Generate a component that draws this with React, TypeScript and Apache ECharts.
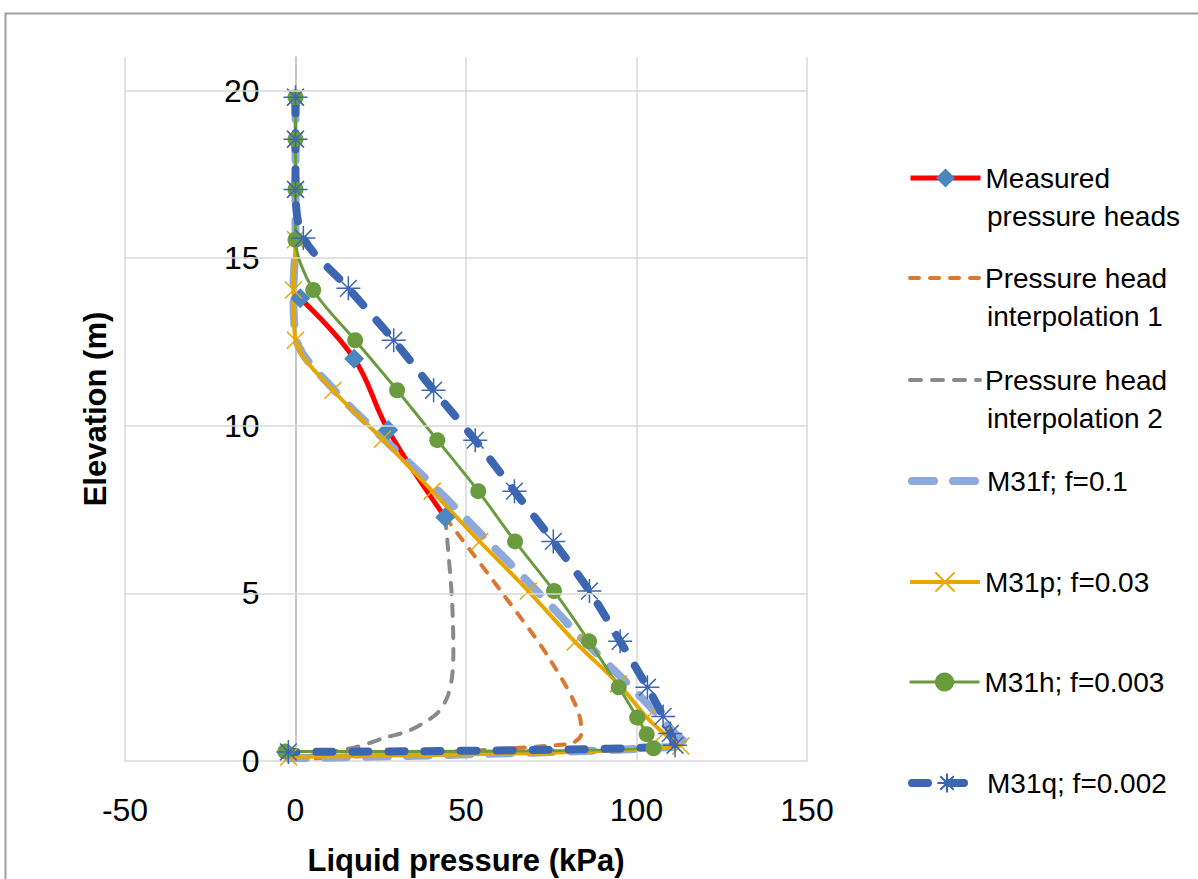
import React, { useEffect, useRef } from "react";
import * as echarts from "echarts";

// ---- data (pressure kPa, elevation m) ----
const measuredP = [1.4, 17.2, 27.2, 43.9];
const measuredE = [13.8, 12.0, 9.87, 7.27];

const interp1P = [43.9, 60.0, 74.8, 83.6, 83.8, 80.0, -1.0];
const interp1E = [7.27, 5.1, 3.0, 1.2, 0.8, 0.5, 0.05];

const interp2P = [43.9, 44.6, 45.9, 46.3, 45.9, 44.5, 41.5, 33.6, 25.7, 18.0, 0.0];
const interp2E = [7.27, 6.5, 4.8, 3.3, 2.5, 1.9, 1.42, 0.92, 0.68, 0.42, 0.08];

const m31fP = [0, 0, 0, 0, -0.6, 0.3, 11.5, 26.5, 42.0, 56.5, 71.0, 85.0, 98.5, 107.0, 111.5, 115.0, -2.0];
const m31fE = [19.8, 18.55, 17.05, 15.55, 14.05, 12.55, 11.05, 9.55, 8.05, 6.55, 5.05, 3.55, 2.2, 1.3, 0.8, 0.5, 0.08];

const m31pP = [0, 0, 0, 0, -0.6, 0, 11.0, 25.5, 40.1, 54.0, 68.3, 82.0, 94.7, 103.0, 108.0, 113.0, -2.0];
const m31pE = [19.8, 18.55, 17.05, 15.55, 14.05, 12.55, 11.06, 9.6, 8.05, 6.55, 5.07, 3.55, 2.3, 1.3, 0.83, 0.45, 0.12];

const m31hP = [0, 0, 0, 0, 5.2, 17.5, 29.8, 41.6, 53.6, 64.4, 75.8, 86.1, 94.8, 100.2, 103.0, 105.0, -3.0];
const m31hE = [19.8, 18.55, 17.05, 15.55, 14.05, 12.55, 11.06, 9.57, 8.05, 6.55, 5.07, 3.57, 2.2, 1.3, 0.8, 0.38, 0.28];

const m31qP = [0, 0, 0, 2.3, 15.5, 28.8, 40.5, 52.7, 64.2, 75.6, 86.2, 95.2, 103.2, 107.8, 109.9, 111.3, -2.1];
const m31qE = [19.8, 18.55, 17.05, 15.6, 14.1, 12.55, 11.06, 9.57, 8.05, 6.55, 5.07, 3.57, 2.2, 1.33, 0.82, 0.47, 0.27];

const xTicks = [-50, 0, 50, 100, 150];
const yGridTicks = [5, 10, 15, 20];

const legendNames = [
  "Measured pressure heads",
  "Pressure head interpolation 1",
  "Pressure head interpolation 2",
  "M31f; f=0.1",
  "M31p; f=0.03",
  "M31h; f=0.003",
  "M31q; f=0.002",
];
const legendFirstLine = ["Measured", "Pressure head", "Pressure head", "M31f; f=0.1", "M31p; f=0.03", "M31h; f=0.003", "M31q; f=0.002"];
const legendSecondLine = ["pressure heads", "interpolation 1", "interpolation 2", "", "", "", ""];
const legendCenters = [178, 278, 380, 481, 582, 682, 783];

const zip = (p: number[], e: number[]) => p.map((v, i) => [v, e[i]]);

const FONT = "'Liberation Sans', Arial, sans-serif";
const X_MARK = "path://M0,0L10,10M10,0L0,10";
const STAR_MARK = "path://M5,0L5,10M0,5L10,5M1.5,1.5L8.5,8.5M8.5,1.5L1.5,8.5";

const COLORS = {
  red: "#FF0000",
  diamond: "#4A86C0",
  orange: "#DA7733",
  gray: "#8A8A8A",
  lightBlue: "#8EA9DB",
  yellow: "#E6A800",
  green: "#6A9C3F",
  blue: "#3C66B2",
};

export default function App() {
  const ref = useRef<HTMLDivElement>(null);
  useEffect(() => {
    if (!ref.current) return;
    const chart = echarts.init(ref.current, null, { renderer: "svg" });

    const legendLineWidths = [5, 4, 4, 8, 4, 3, 8];
    const legendHideSymbol = [false, true, true, true, false, false, false];

    const legends = legendNames.map((n, i) => ({
      data: [legendHideSymbol[i] ? { name: n, itemStyle: { opacity: 0 } } : { name: n }],
      left: 908,
      top: legendCenters[i] - 15,
      orient: "vertical",
      padding: 0,
      itemWidth: 70,
      itemHeight: 24,
      selectedMode: false,
      lineStyle: { width: legendLineWidths[i] },
      formatter: () => legendFirstLine[i],
      textStyle: { fontFamily: FONT, fontSize: 28, color: "#000", lineHeight: 30 },
    }));

    const graphics: any[] = [
      {
        type: "rect",
        shape: { x: 5.5, y: 13.5, width: 1300, height: 1000 },
        style: { fill: "none", stroke: "#a0a0a0", lineWidth: 2 },
        silent: true,
      },
    ];
    legendSecondLine.forEach((t, i) => {
      if (!t) return;
      graphics.push({
        type: "text",
        left: 987,
        top: legendCenters[i] + 39 - 15,
        style: { text: t, font: `28px ${FONT}`, fill: "#000" },
      });
    });

    chart.setOption({
      animation: false,
      backgroundColor: "#fff",
      grid: { left: 125, right: 391, top: 57, bottom: 118, containLabel: false, outerBoundsMode: "none" },
      legend: legends,
      graphic: graphics,
      xAxis: {
        type: "value",
        min: xTicks[0],
        max: xTicks[xTicks.length - 1],
        interval: 50,
        name: "Liquid pressure (kPa)",
        nameLocation: "middle",
        nameGap: 84,
        nameTextStyle: { fontFamily: FONT, fontSize: 31, fontWeight: "bold", color: "#000" },
        axisLine: { show: true, onZero: false, lineStyle: { color: "#d9d9d9", width: 1.5 } },
        axisTick: { show: false },
        axisLabel: { fontFamily: FONT, fontSize: 32, color: "#000", margin: 33 },
        splitLine: { show: true, lineStyle: { color: "#d9d9d9", width: 1.5 } },
      },
      yAxis: {
        type: "value",
        min: 0,
        max: 21,
        interval: 5,
        offset: -170.5,
        name: "Elevation (m)",
        nameLocation: "middle",
        nameGap: 185,
        nameTextStyle: { fontFamily: FONT, fontSize: 31, fontWeight: "bold", color: "#000" },
        axisLine: { show: true, onZero: false, lineStyle: { color: "#bfbfbf", width: 1.5 } },
        axisTick: { show: false },
        axisLabel: { fontFamily: FONT, fontSize: 32, color: "#000", margin: 36, showMaxLabel: false },
        splitLine: { show: false },
      },
      series: [
        {
          name: "gridlines",
          type: "line",
          data: [],
          silent: true,
          markLine: {
            silent: true,
            symbol: "none",
            label: { show: false },
            lineStyle: { color: "#d9d9d9", width: 1.5, type: "solid" },
            data: yGridTicks.map((v) => ({ yAxis: v })),
          },
        },
        {
          name: legendNames[0],
          type: "line",
          data: zip(measuredP, measuredE),
          smooth: 0.4,
          symbol: "diamond",
          symbolSize: 20,
          itemStyle: { color: COLORS.diamond },
          lineStyle: { color: COLORS.red, width: 5 },
        },
        {
          name: legendNames[1],
          type: "line",
          data: zip(interp1P, interp1E),
          smooth: 0.3,
          showSymbol: false,
          symbol: "none",
          itemStyle: { color: COLORS.orange },
          lineStyle: { color: COLORS.orange, width: 4, type: [9, 11], cap: "round" },
        },
        {
          name: legendNames[2],
          type: "line",
          data: zip(interp2P, interp2E),
          smooth: 0.3,
          showSymbol: false,
          symbol: "none",
          itemStyle: { color: COLORS.gray },
          lineStyle: { color: COLORS.gray, width: 4, type: [11, 11], cap: "round" },
        },
        {
          name: legendNames[3],
          type: "line",
          data: zip(m31fP, m31fE),
          smooth: 0.3,
          showSymbol: false,
          symbol: "none",
          itemStyle: { color: COLORS.lightBlue },
          lineStyle: { color: COLORS.lightBlue, width: 8, type: [22, 19], cap: "round" },
        },
        {
          name: legendNames[4],
          type: "line",
          data: zip(m31pP, m31pE),
          smooth: 0.3,
          symbol: X_MARK,
          symbolSize: 17,
          itemStyle: { color: COLORS.yellow, borderColor: COLORS.yellow, borderWidth: 1.5 },
          lineStyle: { color: COLORS.yellow, width: 4 },
        },
        {
          name: legendNames[5],
          type: "line",
          data: zip(m31hP, m31hE),
          smooth: 0.3,
          symbol: "circle",
          symbolSize: 16,
          itemStyle: { color: COLORS.green },
          lineStyle: { color: COLORS.green, width: 3 },
        },
        {
          name: legendNames[6],
          type: "line",
          data: zip(m31qP, m31qE),
          smooth: 0.3,
          symbol: STAR_MARK,
          symbolSize: 24,
          itemStyle: { color: COLORS.blue, borderColor: COLORS.blue, borderWidth: 1.5 },
          lineStyle: { color: COLORS.blue, width: 8, type: [16, 20], cap: "round" },
        },
      ],
    });
    return () => chart.dispose();
  }, []);
  return (
    <div
      ref={ref}
      style={{ position: "absolute", left: 0, top: 0, width: 1198, height: 879, background: "#fff" }}
    />
  );
}
